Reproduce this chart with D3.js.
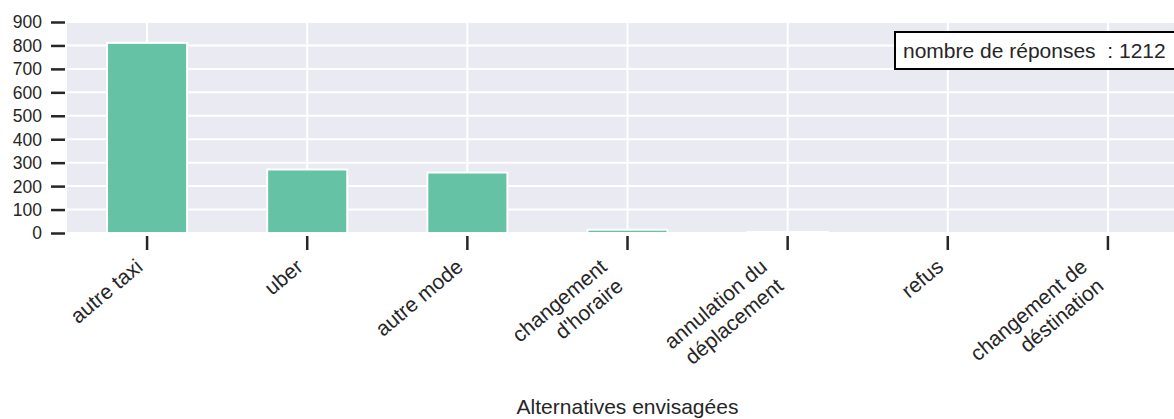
<!DOCTYPE html>
<html><head><meta charset="utf-8">
<script src="https://cdn.jsdelivr.net/npm/d3@7"></script>
<style>body{margin:0;background:#fff}svg{display:block}text{font-family:"Liberation Sans",Arial,sans-serif;fill:#262626}</style>
</head><body><svg id="c" width="1174" height="419"></svg>
<script>
const categories = ["autre taxi","uber","autre mode","changement\nd'horaire","annulation du\ndéplacement","refus","changement de\ndéstination"];
const values = [811, 271, 258, 14, 4, 0, 0];
const yTicks = [0,100,200,300,400,500,600,700,800,900];
const legendText = "nombre de réponses  : 1212";
const xTitle = "Alternatives envisagées";

const svg = d3.select("#c");
const L = 67, R = 1188, T = 22, B = 233;
const fsY = 17.5, fs = 21;
const x = d3.scaleBand().domain(categories).range([L, R]);
const cx = c => x(c) + x.bandwidth()/2;
const y = d3.scaleLinear().domain([0, 900]).range([B, T]);

svg.append("rect").attr("x", L).attr("y", T).attr("width", R-L).attr("height", B-T).attr("fill", "#EAEAF2");
const g = svg.append("g");
g.selectAll("line.h").data(yTicks).join("line").attr("x1", L).attr("x2", R)
  .attr("y1", d=>y(d)).attr("y2", d=>y(d)).attr("stroke", "#fff").attr("stroke-width", 2);
g.selectAll("line.v").data(categories).join("line").attr("x1", d=>cx(d)).attr("x2", d=>cx(d))
  .attr("y1", T).attr("y2", B).attr("stroke", "#fff").attr("stroke-width", 2);

const bw = x.bandwidth()*0.5;
svg.selectAll("rect.bar").data(categories.map((c,i)=>({c, v: values[i]})).filter(d=>d.v>0)).join("rect")
  .attr("x", d=>cx(d.c)-bw/2).attr("width", bw)
  .attr("y", d=>y(d.v)).attr("height", d=>y(0)-y(d.v))
  .attr("fill", "#66c2a5").attr("stroke", "#fff").attr("stroke-width", 2);

// y axis
const ya = svg.append("g").attr("transform", `translate(65,0)`)
  .call(d3.axisLeft(y).tickValues(yTicks).tickSize(14).tickPadding(9).tickFormat(d3.format("d")));
ya.select(".domain").remove();
ya.selectAll(".tick line").attr("stroke", "#262626").attr("stroke-width", 2.5);
ya.selectAll(".tick text").attr("font-size", fsY).attr("font-family", '"Liberation Sans",Arial,sans-serif').attr("fill", "#262626").attr("dy", "0.34em");

// x axis
const xa = svg.append("g").attr("transform", `translate(0,236)`)
  .call(d3.axisBottom(x).tickSize(14).tickFormat(""));
xa.select(".domain").remove();
xa.selectAll(".tick line").attr("stroke", "#262626").attr("stroke-width", 2.5);
xa.selectAll(".tick text").remove();

// rotated labels (matplotlib style ha=right, rotation=40)
const ang = 40*Math.PI/180, lh = 1.2*fs, asc = 0.93*fs, desc = 0.22*fs, top0 = 254;
categories.forEach(c => {
  const lines = c.split("\n");
  const n = lines.length;
  const h = (n-1)*lh + asc + desc;
  const ax = cx(c) - desc*Math.sin(ang);
  const ay = top0 + h*Math.cos(ang) - desc*Math.cos(ang);
  const t = svg.append("g").attr("transform", `translate(${ax},${ay}) rotate(-40)`)
    .append("text").attr("text-anchor", "end").attr("font-size", fs);
  lines.forEach((ln, i) => {
    t.append("tspan").attr("x", 0).attr("y", -(n-1-i)*lh).text(ln);
  });
});

svg.append("text").attr("x", (L+R)/2).attr("y", 414).attr("text-anchor", "middle")
  .attr("font-size", fs).text(xTitle);

// legend box
svg.append("rect").attr("x", 895).attr("y", 32).attr("width", 290).attr("height", 37)
  .attr("fill", "#fff").attr("stroke", "#000").attr("stroke-width", 2);
svg.append("text").attr("x", 903).attr("y", 58).attr("font-size", fs)
  .style("white-space", "pre").text(legendText);
</script></body></html>
